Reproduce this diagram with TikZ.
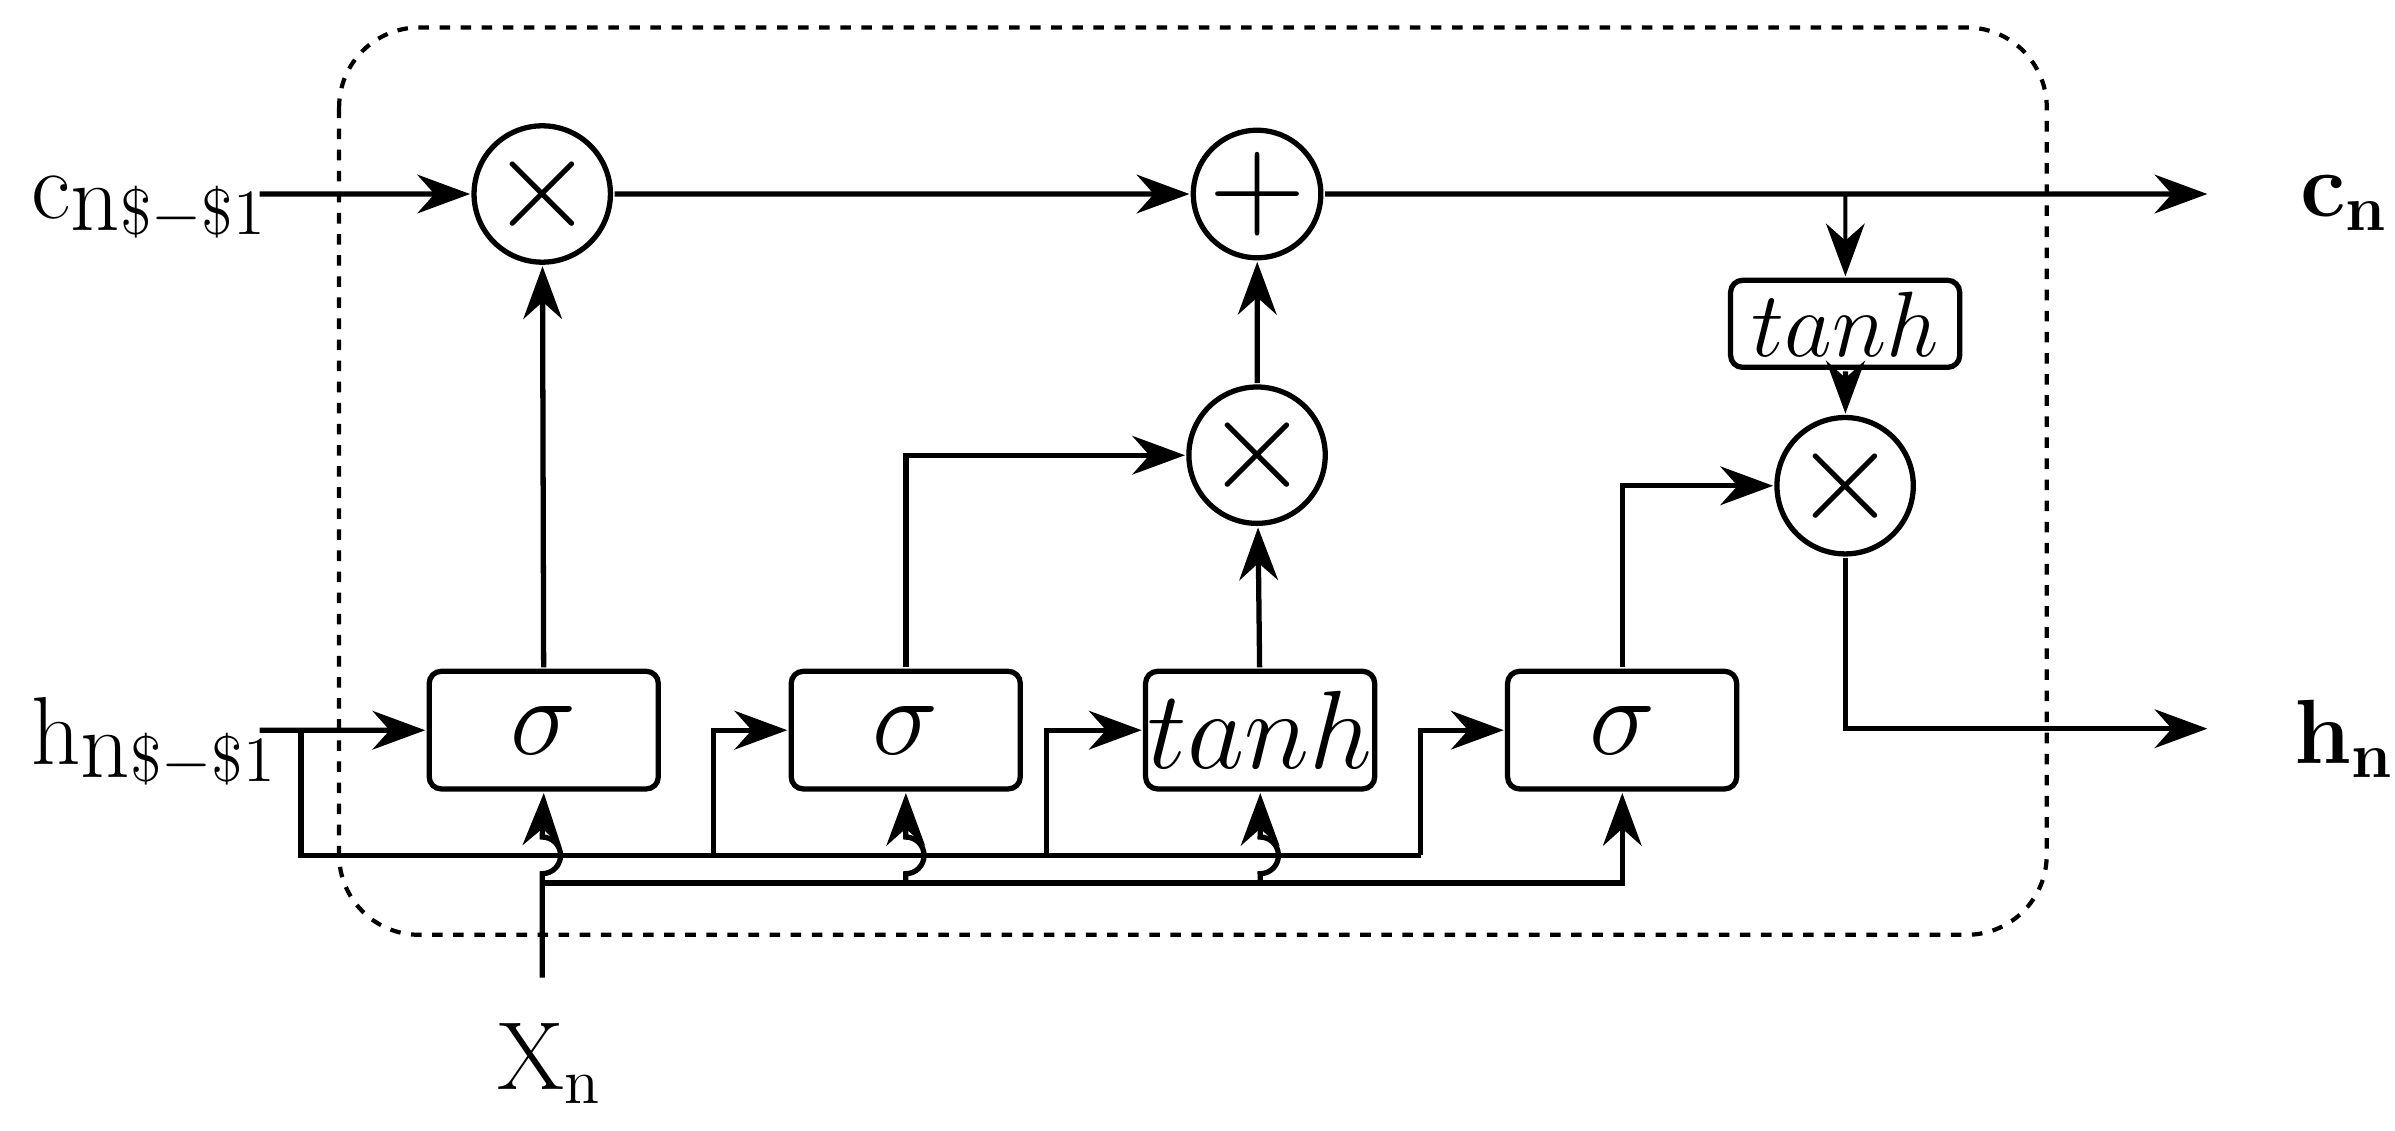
\documentclass[tikz,border=0pt]{standalone}
\usetikzlibrary{arrows.meta}
\begin{document}
\begin{tikzpicture}[
  scale=1.527, every node/.append style={transform shape},
  line width=1.5pt,
  arr/.style={-{Stealth[length=15pt,width=11pt]}},
  op/.style={draw,circle,minimum size=0.82cm,inner sep=0pt,font=\fontsize{26}{28}\selectfont},
  gate/.style={draw,rounded corners=0.12cm,minimum width=1.5cm,minimum height=0.77cm,inner sep=0pt,font=\fontsize{20}{24}\selectfont},
  lbl/.style={inner sep=0pt,font=\fontsize{18}{22}\selectfont}
]
\useasboundingbox (0,0) rectangle (15.68,-7.40);
% cell border
\draw[dashed,line width=1.2pt,rounded corners=0.8cm] (2.22,-0.18) rectangle (13.40,-6.12);

% operators
\node[op] (m1) at (3.55,-1.27) {$\times$};
\node[op] (pl) at (8.23,-1.27) {$+$};
\node[op] (m2) at (8.23,-2.98) {$\times$};
\node[op] (m3) at (12.08,-3.18) {$\times$};
% gates
\node[gate] (s1) at (3.56,-4.78) {$\sigma$};
\node[gate] (s2) at (5.93,-4.78) {$\sigma$};
\node[gate] (t1) at (8.25,-4.78) {$tanh$};
\node[gate] (s3) at (10.62,-4.78) {$\sigma$};
\node[gate,font=\fontsize{18}{22}\selectfont,minimum height=0.57cm] (t2) at (12.08,-2.12) {$tanh$};

% labels
\node[lbl,anchor=west] (cin) at (0.18,-1.36) {c\raisebox{-0.3ex}{n}{\fontsize{12}{14}\selectfont\raisebox{-0.6ex}{\$$-$\$1}}};
\node[lbl,anchor=west] (hin) at (0.18,-4.86) {h\raisebox{-0.3ex}{n}{\fontsize{12}{14}\selectfont\raisebox{-0.6ex}{\$$-$\$1}}};
\node[lbl,font=\fontsize{17}{20}\bfseries\selectfont] (cout) at (15.35,-1.33) {c$_{\mathbf{n}}$};
\node[lbl,font=\fontsize{17}{20}\bfseries\selectfont] (hout) at (15.35,-4.84) {h$_{\mathbf{n}}$};
\node[lbl] (xin) at (3.60,-6.96) {X$_{\mathrm{n}}$};

% coordinates
\coordinate (c0) at (1.70,-1.27);
\coordinate (c1) at (14.45,-1.27);
\coordinate (tb) at (12.08,-1.27);
\coordinate (h0) at (1.70,-4.78);
\coordinate (hb) at (1.97,-4.78);
\coordinate (hl) at (1.97,-5.60);
\coordinate (hr) at (9.30,-5.60);
\coordinate (r2) at (4.67,-5.60);
\coordinate (r3) at (6.85,-5.60);
\coordinate (h1) at (14.45,-4.77);
\coordinate (x0) at (3.55,-6.40);
\coordinate (xl) at (3.55,-5.78);
\coordinate (x2) at (5.93,-5.78);
\coordinate (x3) at (8.25,-5.78);

% cell state
\draw[arr] (c0) -- (m1);
\draw[arr] (m1) -- (pl);
\draw[arr] (pl) -- (c1);
\draw[arr,line width=1.1pt] (tb) -- (t2);
\draw[arr] (t2) -- (m3);
\draw[arr] (m3) |- (h1);

% hidden state
\draw[arr] (h0) -- (s1);
\draw (hb) -- (hl) -- (hr);
\draw[arr] (r2) |- (s2.west);
\draw[arr] (r3) |- (t1.west);
\draw[arr] (hr) |- (s3.west);

% input
\draw[arr] (x0) -- (3.55,-5.72) arc[start angle=-90,end angle=90,radius=0.12] -- (s1.south);
\draw[arr] (xl) -| (s3.south);
\draw[arr] (x2) -- (5.93,-5.72) arc[start angle=-90,end angle=90,radius=0.12] -- (s2.south);
\draw[arr] (x3) -- (8.25,-5.72) arc[start angle=-90,end angle=90,radius=0.12] -- (t1.south);

% gate outputs
\draw[arr] (s1) -- (m1);
\draw[arr] (s2.north) |- (m2.west);
\draw[arr] (t1) -- (m2);
\draw[arr] (m2) -- (pl);
\draw[arr] (s3.north) |- (m3.west);
\end{tikzpicture}
\end{document}
